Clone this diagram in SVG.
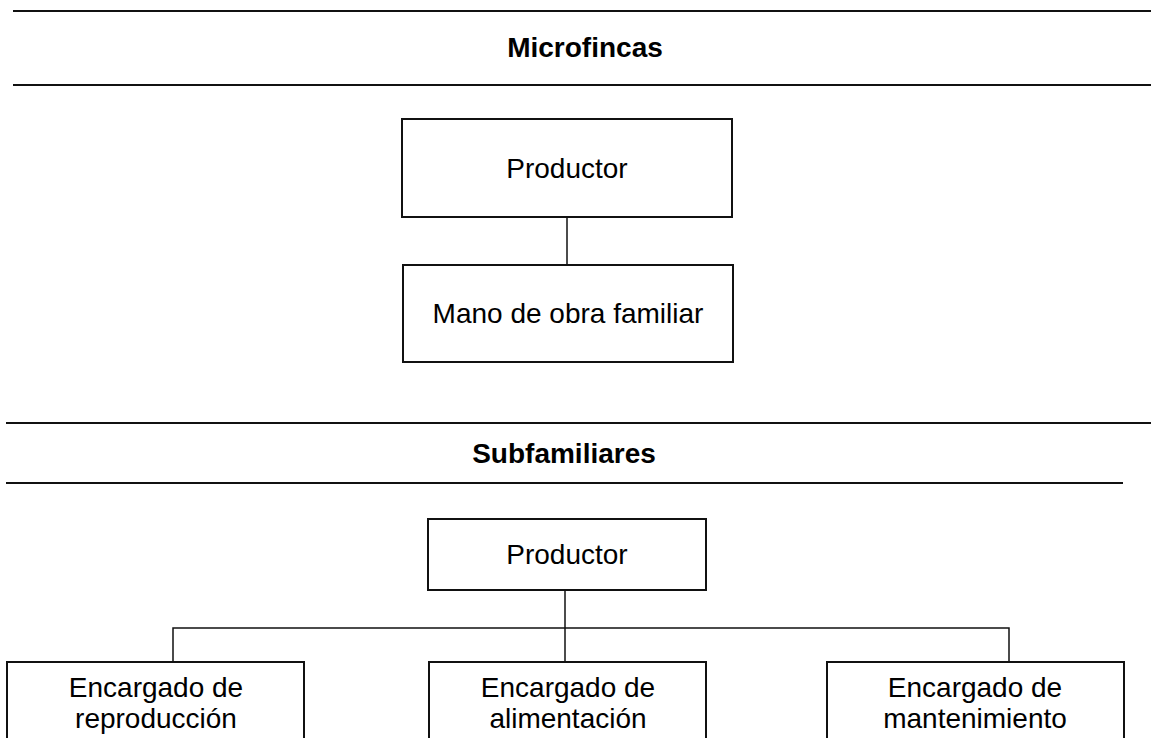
<svg xmlns="http://www.w3.org/2000/svg" width="1151" height="738" viewBox="0 0 1151 738">
<style>
.rule{stroke:#111;stroke-width:2;fill:none}
.box{fill:#fff;stroke:#111;stroke-width:2}
.conn{stroke:#111;stroke-width:1.5;fill:none}
.t{font-family:"Liberation Sans",Arial,sans-serif;font-size:28px;fill:#000;text-anchor:middle}
.h{font-family:"Liberation Sans",Arial,sans-serif;font-size:28px;font-weight:bold;fill:#000;text-anchor:middle}
</style>
<rect width="1151" height="738" fill="#fff"/>
<g id="section-microfincas">
<line class="rule" x1="13" y1="11" x2="1151" y2="11"/>
<line class="rule" x1="13" y1="85" x2="1151" y2="85"/>
<text class="h" x="585" y="57">Microfincas</text>
</g>
<g id="section-subfamiliares">
<line class="rule" x1="6" y1="423" x2="1151" y2="423"/>
<line class="rule" x1="6" y1="483" x2="1123" y2="483"/>
<text class="h" x="564" y="463">Subfamiliares</text>
</g>
<g id="connectors">
<line class="conn" x1="567" y1="217" x2="567" y2="265"/>
<line class="conn" x1="565" y1="590" x2="565" y2="662"/>
<polyline class="conn" points="173,662 173,628 1009,628 1009,662"/>
</g>
<g id="node-productor-1">
<rect class="box" x="402" y="119" width="330" height="98"/>
<text class="t" x="567" y="178">Productor</text>
</g>
<g id="node-mano-de-obra">
<rect class="box" x="403" y="265" width="330" height="97"/>
<text class="t" x="568" y="323">Mano de obra familiar</text>
</g>
<g id="node-productor-2">
<rect class="box" x="428" y="519" width="278" height="71"/>
<text class="t" x="567" y="564">Productor</text>
</g>
<g id="node-reproduccion">
<rect class="box" x="7" y="662" width="297" height="100"/>
<text class="t" x="156" y="697">Encargado de</text>
<text class="t" x="156" y="728">reproducción</text>
</g>
<g id="node-alimentacion">
<rect class="box" x="429" y="662" width="277" height="100"/>
<text class="t" x="568" y="697">Encargado de</text>
<text class="t" x="568" y="728">alimentación</text>
</g>
<g id="node-mantenimiento">
<rect class="box" x="827" y="662" width="297" height="100"/>
<text class="t" x="975" y="697">Encargado de</text>
<text class="t" x="975" y="728">mantenimiento</text>
</g>
</svg>
